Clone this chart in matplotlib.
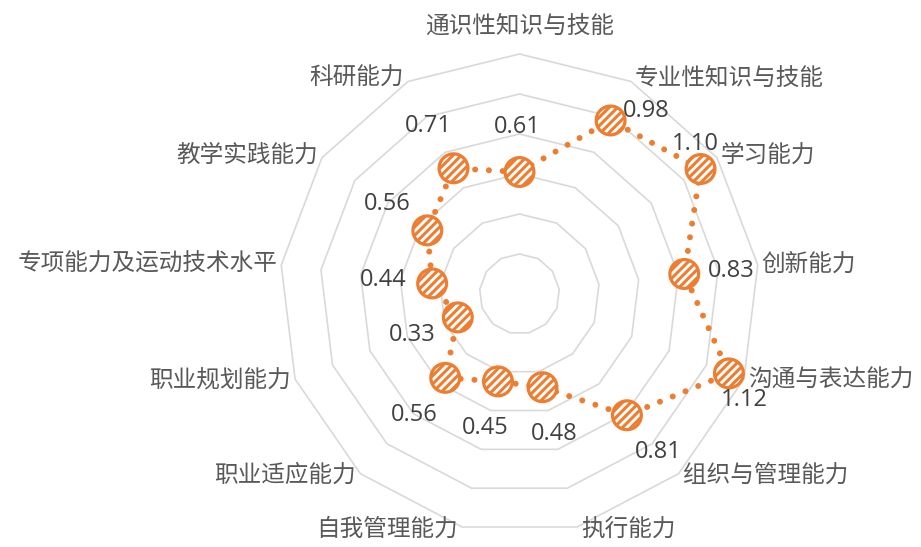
import numpy as np
import matplotlib
matplotlib.use("Agg")
import matplotlib.pyplot as plt

# categories clockwise from the top
categories = ["通识性知识与技能", "专业性知识与技能", "学习能力", "创新能力",
              "沟通与表达能力", "组织与管理能力", "执行能力", "自我管理能力",
              "职业适应能力", "职业规划能力", "专项能力及运动技术水平",
              "教学实践能力", "科研能力"]
values = [0.61, 0.98, 1.10, 0.83, 1.12, 0.81, 0.48, 0.45, 0.56, 0.33, 0.44, 0.56, 0.71]
value_labels = ["0.61", "0.98", "1.10", "0.83", "1.12", "0.81", "0.48", "0.45",
                "0.56", "0.33", "0.44", "0.56", "0.71"]
ring_levels = [0.2, 0.4, 0.6, 0.8, 1.0, 1.2]

orange = "#ED7D31"
grid_gray = "#D9D9D9"

plt.rcParams['font.family'] = ['Open Sans', 'Noto Sans CJK SC', 'DejaVu Sans']
plt.rcParams['hatch.color'] = orange
plt.rcParams['hatch.linewidth'] = 2.2

W, H = 921, 547
fig = plt.figure(figsize=(W / 100, H / 100), dpi=100)

# polar axes centred where the reference chart sits
cx, cy, R = 519.5, H - 294, 240
ax = fig.add_axes([(cx - R) / W, (cy - R) / H, 2 * R / W, 2 * R / H], projection='polar')
ax.set_theta_zero_location('N')
ax.set_theta_direction(-1)
ax.set_ylim(0, 1.2)
ax.axis('off')

n = len(categories)
angles = np.arange(n) * 2 * np.pi / n
loop = np.append(angles, angles[0])

# polygon grid rings
for lvl in ring_levels:
    ax.plot(loop, [lvl] * (n + 1), color=grid_gray, lw=1.2, zorder=1, clip_on=False)

# dotted series line
ax.plot(loop, values + values[:1], color=orange, lw=4.3,
        linestyle=(0, (0.01, 2.3)), dash_capstyle='round', zorder=2, clip_on=False)

# hatched markers
ax.scatter(angles, values, s=430, facecolor='white', edgecolor=orange,
           linewidths=2.3, hatch='////', zorder=3, clip_on=False)

# value labels (offsets in pixels, y downwards)
label_offsets = [(-2, -45), (36, -9), (-5, -25), (47, -3), (15, 27), (31, 37),
                 (12, 47), (-13, 47), (-31, 37), (-46, 18), (-49, -3), (-40, -26),
                 (-25, -42)]
for a, v, txt, (dx, dy) in zip(angles, values, value_labels, label_offsets):
    ax.annotate(txt, (a, v), xytext=(dx * 0.72, -dy * 0.72), textcoords='offset points',
                ha='center', va='center', fontsize=17, color='#404040',
                annotation_clip=False, zorder=4)

# category labels just outside the outer ring
for a, cat in zip(angles, categories):
    s = np.sin(a)
    c = np.cos(a)
    if abs(s) < 0.05:
        ha, dx, dy = 'center', 0, -27
    elif s > 0:
        ha, dx, dy = 'left', 4, -3 * c
    else:
        ha, dx, dy = 'right', -4, -3 * c
    ax.annotate(cat, (a, 1.2), xytext=(dx * 0.72, -dy * 0.72), textcoords='offset points',
                ha=ha, va='center', fontsize=17, color='#595959',
                annotation_clip=False)

fig.savefig("out.png", dpi=100)
